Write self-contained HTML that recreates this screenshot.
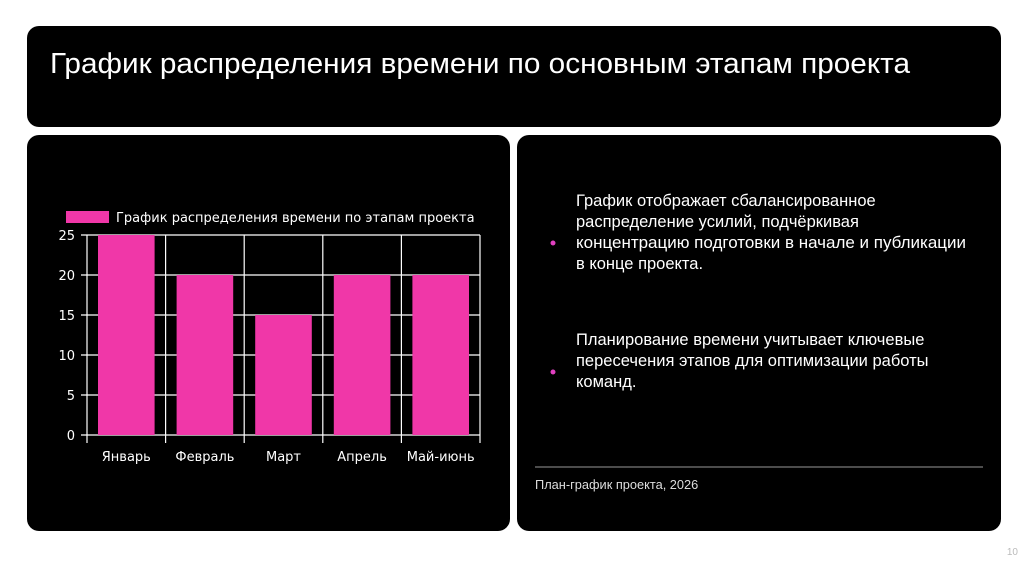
<!DOCTYPE html>
<html><head><meta charset="utf-8"><style>
body{margin:0;width:1024px;height:576px;background:#fff;overflow:hidden;position:relative;font-family:"Liberation Sans","DejaVu Sans",sans-serif}
.panel{position:absolute;background:#000;border-radius:12px}
</style></head><body>
<div class="panel" style="left:27px;top:26px;width:974px;height:101px"></div>
<div class="panel" style="left:27px;top:135px;width:483px;height:396px"></div>
<div class="panel" style="left:517px;top:135px;width:484px;height:396px"></div>
<svg width="1024" height="576" style="position:absolute;left:0;top:0" id="svg">
<text x="50" y="73" fill="#fff" font-size="29" textLength="860" lengthAdjust="spacingAndGlyphs">График распределения времени по основным этапам проекта</text>
<g id="chart"></g>
<g fill="#fff" font-size="16.5">
<circle cx="553" cy="243" r="2.5" fill="#e040c0"/>
<text x="576" y="206">График отображает сбалансированное</text>
<text x="576" y="227">распределение усилий, подчёркивая</text>
<text x="576" y="248" textLength="390" lengthAdjust="spacingAndGlyphs">концентрацию подготовки в начале и публикации</text>
<text x="576" y="269">в конце проекта.</text>
</g>
<g fill="#fff" font-size="16.5">
<circle cx="553" cy="372" r="2.5" fill="#e040c0"/>
<text x="576" y="345">Планирование времени учитывает ключевые</text>
<text x="576" y="366">пересечения этапов для оптимизации работы</text>
<text x="576" y="387">команд.</text>
</g>
<line x1="535" y1="467" x2="983" y2="467" stroke="#999" stroke-width="1"/>
<text x="535" y="489" fill="#ddd" font-size="12.8">План-график проекта, 2026</text>
<text x="1018" y="555" fill="#bbb" font-size="10" text-anchor="end">10</text>
</svg>
<script>
const categories=["Январь","Февраль","Март","Апрель","Май-июнь"];
const values=[25,20,15,20,20];
const yTicks=[0,5,10,15,20,25];
const NS="http://www.w3.org/2000/svg";
const g=document.getElementById('chart');
const x0=87,x1=480,y0=435,y1=235,yMax=25;
const bw=(x1-x0)/categories.length;
const y=v=>y0-(v/yMax)*(y0-y1);
function mk(t,a,p){const e=document.createElementNS(NS,t);for(const k in a)e.setAttribute(k,a[k]);(p||g).appendChild(e);return e;}
yTicks.forEach(t=>{
 const l=mk('line',{x1:x0-6,x2:x1,y1:y(t),y2:y(t),stroke:'#fff','stroke-width':1.2});
 
 
 const tx=mk('text',{x:x0-12,y:y(t)+5,fill:'#fff','font-size':13,'text-anchor':'end','font-family':'DejaVu Sans, sans-serif'});
 tx.textContent=t;
 
 
});
for(let i=0;i<=categories.length;i++){
 const l=mk('line',{x1:x0+i*bw,x2:x0+i*bw,y1:y1,y2:y0+8,stroke:'#fff','stroke-width':1.2});
 
 
}
categories.forEach((c,i)=>{
 const r=mk('rect',{x:x0+i*bw+11,y:y(values[i]),width:bw-22,height:y0-y(values[i]),fill:'#f037a8'});
 
 
 const t=mk('text',{x:x0+i*bw+bw/2,y:461,fill:'#fff','font-size':13,'text-anchor':'middle','font-family':'DejaVu Sans, sans-serif'});
 t.textContent=c;
 
 
});
const lr=mk('rect',{x:66,y:211,width:43,height:12,fill:'#f037a8'});


const lt=mk('text',{x:116,y:222,fill:'#fff','font-size':13,'font-family':'DejaVu Sans, sans-serif'});
lt.textContent='График распределения времени по этапам проекта';


</script>
</body></html>
